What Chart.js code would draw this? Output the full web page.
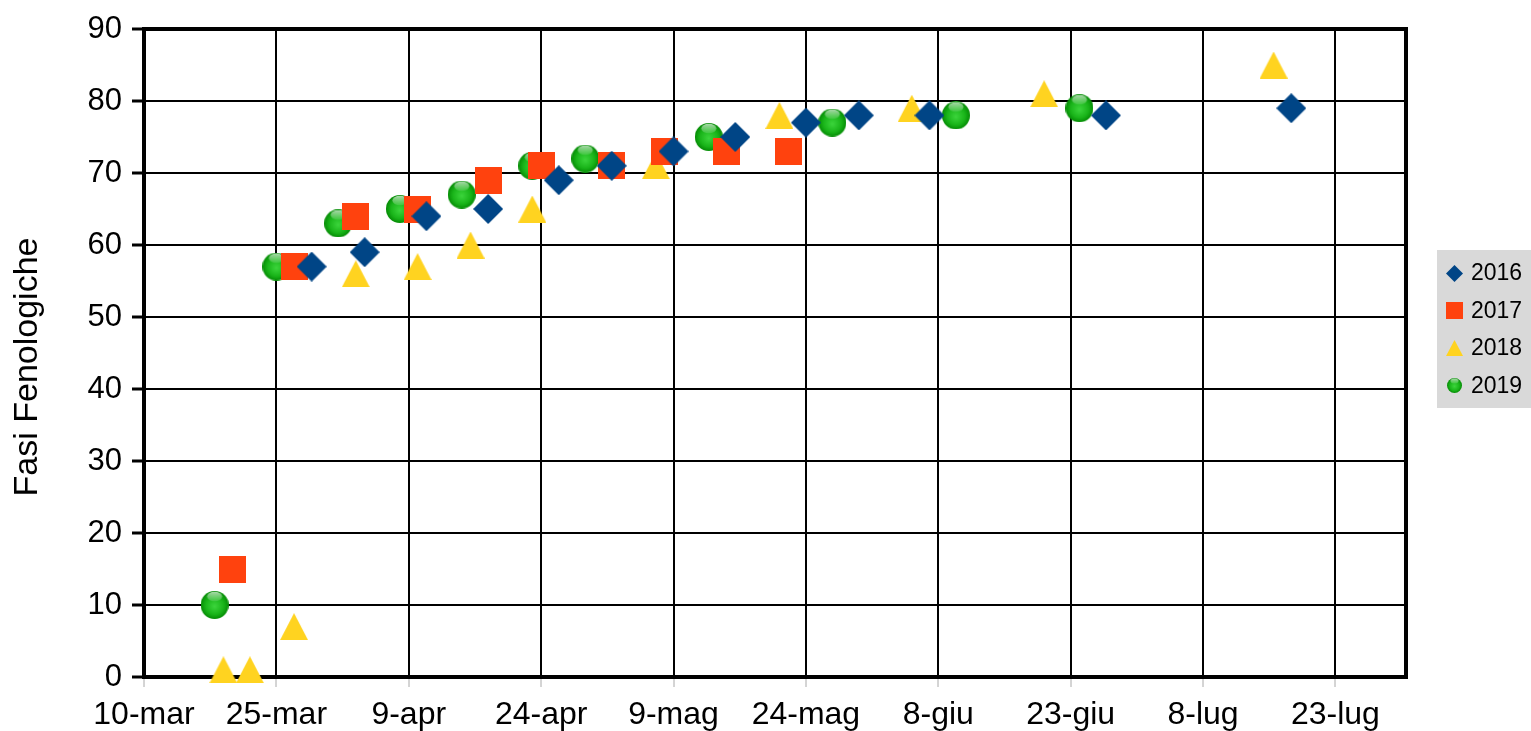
<!DOCTYPE html>
<html>
<head>
<meta charset="utf-8">
<title>Fasi Fenologiche</title>
<script src="https://cdn.jsdelivr.net/npm/chart.js@4.4.1/dist/chart.umd.min.js"></script>
<style>
  html, body { margin: 0; padding: 0; background: #fff; }
  #wrap { width: 1531px; height: 731px; position: relative; }
</style>
</head>
<body>
<div id="wrap"><canvas id="chart"></canvas></div>
<script>
// x = days after 10 March, y = phenological stage
const tickLabels = ['10-mar', '25-mar', '9-apr', '24-apr', '9-mag', '24-mag', '8-giu', '23-giu', '8-lug', '23-lug'];
const yTitle = 'Fasi Fenologiche';

const days2016 = [19, 25, 32, 39, 47, 53, 60, 67, 75, 81, 89, 109, 130];
const fasi2016 = [57, 59, 64, 65, 69, 71, 73, 75, 77, 78, 78, 78, 79];

const days2017 = [10, 17, 24, 31, 39, 45, 53, 59, 66, 73];
const fasi2017 = [15, 57, 64, 65, 69, 71, 71, 73, 73, 73];

const days2018 = [9, 12, 17, 24, 31, 37, 44, 58, 72, 87, 102, 128];
const fasi2018 = [1, 1, 7, 56, 57, 60, 65, 71, 78, 79, 81, 85];

const days2019 = [8, 15, 22, 29, 36, 44, 50, 64, 78, 92, 106];
const fasi2019 = [10, 57, 63, 65, 67, 71, 72, 75, 77, 78, 79];

const seriesNames = ['2016', '2017', '2018', '2019'];
const seriesColors = ['#004586', '#ff420e', '#ffd320', '#1cb31c'];
const seriesShapes = ['diamond', 'square', 'triangle', 'ball'];

const FONT = '"Liberation Sans", Arial, sans-serif';

function makeMarker(kind, color, w, h) {
  const c = document.createElement('canvas');
  c.width = w;
  c.height = h;
  const g = c.getContext('2d');
  g.fillStyle = color;
  if (kind === 'diamond') {
    g.beginPath();
    g.moveTo(w / 2, 0);
    g.lineTo(w, h / 2);
    g.lineTo(w / 2, h);
    g.lineTo(0, h / 2);
    g.closePath();
    g.fill();
  } else if (kind === 'square') {
    g.fillRect(0, 0, w, h);
  } else if (kind === 'triangle') {
    g.beginPath();
    g.moveTo(w / 2, 0);
    g.lineTo(w, h);
    g.lineTo(0, h);
    g.closePath();
    g.fill();
  } else {
    // green glossy ball
    const r = w / 2;
    const grad = g.createRadialGradient(r, r * 1.1, 0, r, r, r);
    grad.addColorStop(0, '#3cd53c');
    grad.addColorStop(0.65, '#19b419');
    grad.addColorStop(1, '#058c05');
    g.fillStyle = grad;
    g.beginPath();
    g.arc(r, r, r, 0, Math.PI * 2);
    g.fill();
    const hl = g.createLinearGradient(0, 0, 0, h * 0.4);
    hl.addColorStop(0, 'rgba(255,255,255,0.7)');
    hl.addColorStop(1, 'rgba(255,255,255,0.05)');
    g.fillStyle = hl;
    g.beginPath();
    g.ellipse(r, h * 0.2, w * 0.27, h * 0.17, 0, 0, Math.PI * 2);
    g.fill();
  }
  return c;
}

const bigSizes = { diamond: [30, 30], square: [27, 27], triangle: [28, 27], ball: [28, 28] };
const smallSizes = { diamond: [17, 17], square: [17, 17], triangle: [17, 16], ball: [15, 15] };

function toPoints(days, vals) {
  return days.map((d, i) => ({ x: d, y: vals[i] }));
}

const allDays = [days2016, days2017, days2018, days2019];
const allFasi = [fasi2016, fasi2017, fasi2018, fasi2019];

const datasets = seriesNames.map((name, i) => {
  const shape = seriesShapes[i];
  return {
    label: name,
    data: toPoints(allDays[i], allFasi[i]),
    backgroundColor: seriesColors[i],
    borderColor: seriesColors[i],
    pointStyle: makeMarker(shape, seriesColors[i], bigSizes[shape][0], bigSizes[shape][1]),
    legendMarker: makeMarker(shape, seriesColors[i], smallSizes[shape][0], smallSizes[shape][1]),
    clip: false,
  };
});

// right edge of the frame, axis title, grey legend box
const framePlugin = {
  id: 'frame',
  beforeDatasetsDraw(chart) {
    const { ctx, chartArea } = chart;
    ctx.save();
    ctx.strokeStyle = '#000';
    ctx.lineWidth = 4;
    ctx.beginPath();
    ctx.moveTo(chartArea.right, chartArea.top - 2);
    ctx.lineTo(chartArea.right, chartArea.bottom + 2);
    ctx.stroke();
    ctx.restore();
  },
  afterDraw(chart) {
    const { ctx } = chart;
    ctx.save();
    ctx.translate(28, 367);
    ctx.rotate(-Math.PI / 2);
    ctx.font = `34px ${FONT}`;
    ctx.fillStyle = '#000';
    ctx.textAlign = 'center';
    ctx.textBaseline = 'middle';
    ctx.fillText(yTitle, 0, 0);
    ctx.restore();

    ctx.save();
    ctx.fillStyle = '#d9d9d9';
    ctx.fillRect(1437, 250, 94, 158);
    ctx.font = `23px ${FONT}`;
    ctx.textBaseline = 'middle';
    ctx.fillStyle = '#000';
    chart.data.datasets.forEach((ds, i) => {
      const y = 273 + i * 37.5;
      const m = ds.legendMarker;
      ctx.drawImage(m, Math.round(1454 - m.width / 2), Math.round(y - m.height / 2));
      ctx.fillText(ds.label, 1471, y + 1);
    });
    ctx.restore();
  },
};

new Chart(document.getElementById('chart'), {
  type: 'scatter',
  data: { datasets },
  plugins: [framePlugin],
  options: {
    responsive: true,
    maintainAspectRatio: false,
    animation: false,
    layout: { padding: { top: 29, right: 125, bottom: 0, left: 0 } },
    plugins: {
      legend: { display: false },
      tooltip: { enabled: false },
    },
    scales: {
      x: {
        type: 'linear',
        min: 0,
        max: 143,
        afterFit: (scale) => { scale.height = 54; },
        border: { color: '#000', width: 4 },
        grid: {
          color: '#000',
          lineWidth: 2,
          tickLength: 10,
          tickColor: '#aaaaaa',
          tickWidth: 1,
        },
        ticks: {
          stepSize: 15,
          includeBounds: false,
          maxRotation: 0,
          autoSkip: false,
          padding: 9,
          color: '#000',
          font: { family: FONT, size: 32 },
          callback: (v) => tickLabels[Math.round(v / 15)] ?? '',
        },
      },
      y: {
        min: 0,
        max: 90,
        afterFit: (scale) => { scale.width = 144; },
        border: { color: '#000', width: 4 },
        grid: {
          color: '#000',
          lineWidth: (c) => (c.tick && c.tick.value === 90 ? 4 : 2),
          tickLength: 12,
          tickColor: '#000',
          tickWidth: 3,
        },
        ticks: {
          stepSize: 10,
          padding: 10,
          color: '#000',
          font: { family: FONT, size: 31 },
        },
      },
    },
  },
});
</script>
</body>
</html>
